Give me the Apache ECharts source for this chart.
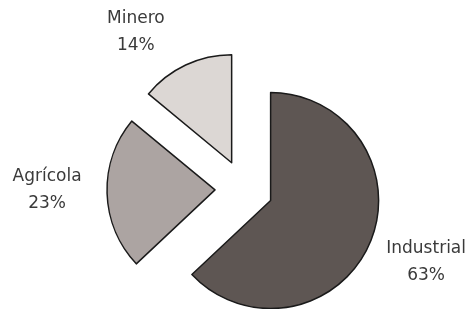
<!DOCTYPE html>
<html>
<head>
<meta charset="utf-8">
<script src="https://cdn.jsdelivr.net/npm/echarts@6/dist/echarts.min.js"></script>
<style>
  html, body { margin: 0; padding: 0; background: #fff; }
  #chart { width: 473px; height: 309px; }
</style>
</head>
<body>
<div id="chart"></div>
<script>
// datos del grafico
var sectores = ['Industrial', 'Agrícola', 'Minero'];
var porcentajes = [63, 23, 14];
var colores = ['#5e5653', '#aca4a2', '#dcd7d4'];

// pequenos ajustes de las etiquetas (dx, dy)
var ajusteEtiqueta = [[5, -4], [-4, -5], [-26, 18]];

var chart = echarts.init(document.getElementById('chart'));

var datos = [];
for (var i = 0; i < sectores.length; i++) {
  datos.push({
    name: sectores[i],
    value: porcentajes[i],
    selected: true,
    itemStyle: { color: colores[i] }
  });
}

chart.setOption({
  animation: false,
  series: [{
    type: 'pie',
    center: [244, 189],
    radius: 108,
    startAngle: 90,
    clockwise: true,
    selectedMode: 'multiple',
    selectedOffset: 29,
    avoidLabelOverlap: false,
    itemStyle: { borderColor: '#1a1a1a', borderWidth: 1.5 },
    label: {
      show: true,
      position: 'outside',
      distanceToLabelLine: 0,
      formatter: '{b}\n{c}%',
      fontFamily: 'DejaVu Sans',
      fontSize: 17,
      lineHeight: 27,
      color: '#3a3a3a'
    },
    labelLine: { show: false, length: 56, length2: 0 },
    labelLayout: function (p) {
      var a = ajusteEtiqueta[p.dataIndex];
      return { align: 'center', verticalAlign: 'middle', dx: a[0], dy: a[1] };
    },
    emphasis: { disabled: true },
    data: datos
  }]
});
</script>
</body>
</html>
